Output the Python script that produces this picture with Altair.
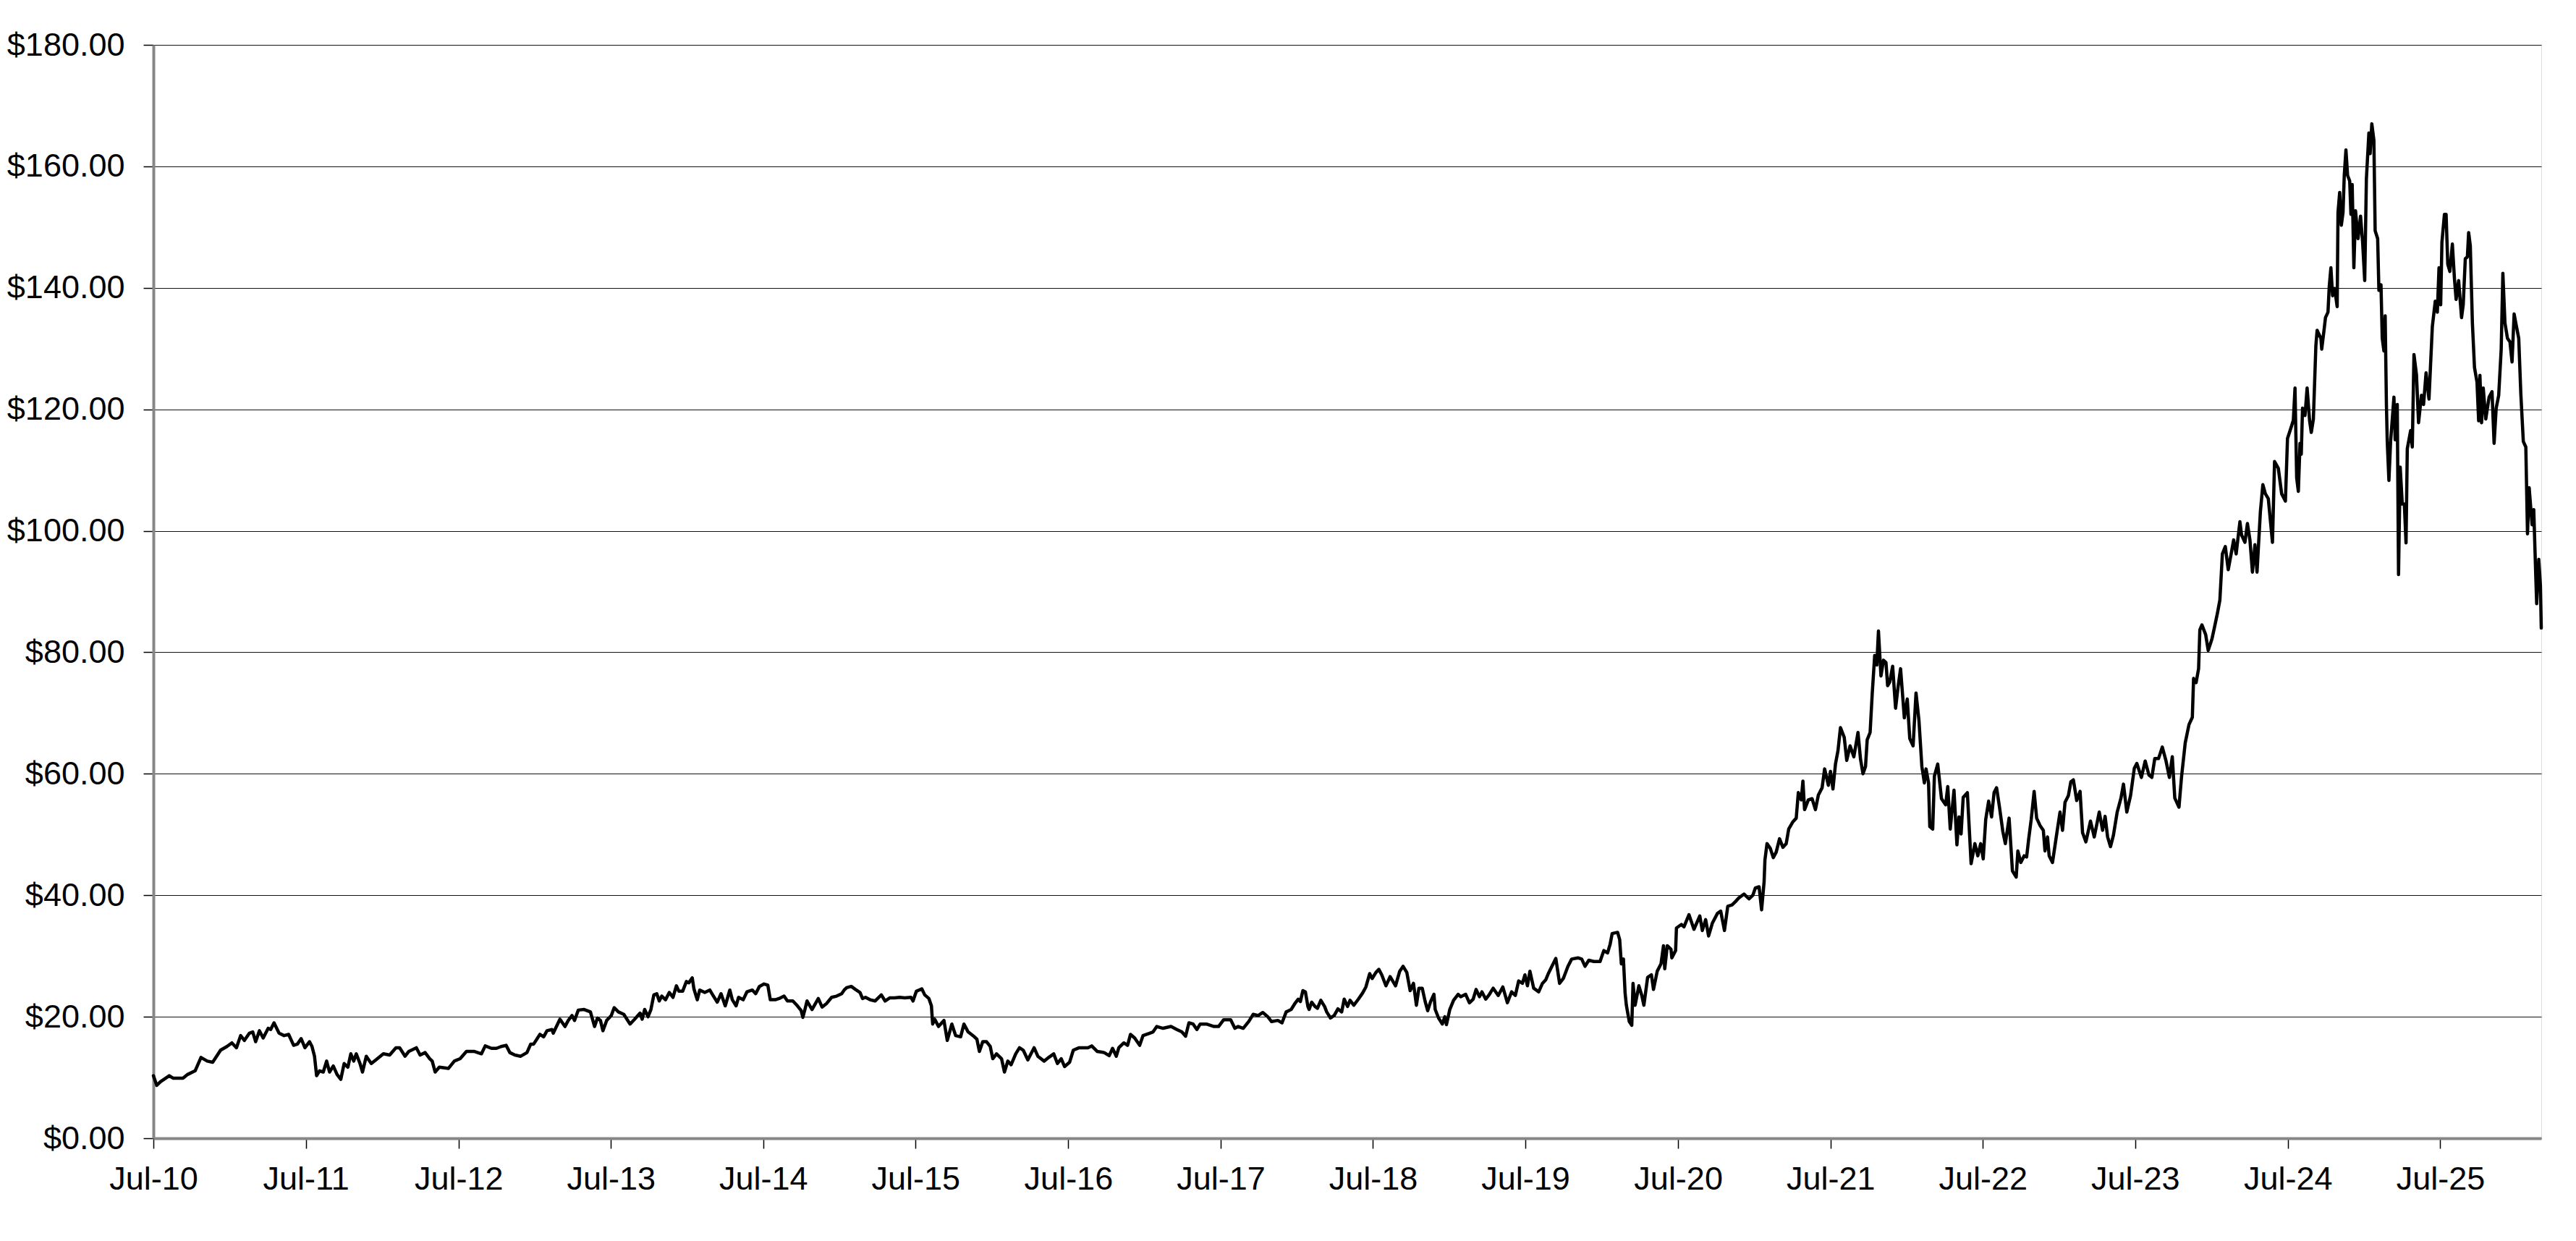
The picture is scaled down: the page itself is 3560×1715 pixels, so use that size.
import altair as alt
import pandas as pd

# ---- data ----
dates_a = ["2010-07-01","2010-07-09","2010-07-18","2010-08-08","2010-08-17","2010-09-10","2010-09-21","2010-10-09","2010-10-23","2010-11-07",
           "2010-11-20","2010-12-09","2010-12-24","2011-01-05","2011-01-16","2011-01-26","2011-02-04","2011-02-16","2011-02-24","2011-03-03",
           "2011-03-12","2011-03-21","2011-04-02","2011-04-08","2011-04-16","2011-04-28","2011-05-10","2011-05-21","2011-06-02","2011-06-11",
           "2011-06-20","2011-06-29","2011-07-10","2011-07-16","2011-07-22","2011-07-27","2011-08-03","2011-08-12","2011-08-20","2011-08-27",
           "2011-09-05","2011-09-14","2011-09-23","2011-10-01","2011-10-10","2011-10-17","2011-10-24","2011-10-30","2011-11-08","2011-11-14",
           "2011-11-23","2011-12-05","2011-12-16","2012-01-03","2012-01-18","2012-02-02","2012-02-11","2012-02-24","2012-03-04","2012-03-22",
           "2012-03-31","2012-04-12","2012-04-23","2012-04-29","2012-05-06","2012-05-16","2012-06-07","2012-06-21","2012-07-05","2012-07-20",
           "2012-08-07","2012-08-25","2012-09-03","2012-09-18","2012-09-30","2012-10-11","2012-10-23","2012-11-01","2012-11-13","2012-11-27",
           "2012-12-12","2012-12-21"]
prices_a = [10.3,8.7,9.3,10.3,9.9,9.9,10.5,11.1,13.3,12.7,
            12.5,14.5,15.1,15.7,14.9,16.9,16.1,17.3,17.5,15.9,
            17.7,16.5,18.1,17.9,19.0,17.3,16.9,17.1,15.3,15.5,
            16.4,14.9,15.9,15.1,13.5,10.3,11.1,10.9,12.7,10.9,
            11.9,10.5,9.7,12.3,11.7,13.9,12.7,13.9,12.3,10.9,
            13.5,12.3,12.9,13.9,13.7,14.9,14.9,13.5,14.3,14.9,
            13.7,14.1,13.1,12.7,10.9,11.7,11.5,12.7,13.1,14.3,
            14.3,13.9,15.2,14.8,14.8,15.1,15.3,14.1,13.7,13.5,
            14.1,15.5]

dates_b = ["2012-12-28","2013-01-12","2013-01-21","2013-01-29","2013-02-10","2013-02-13","2013-03-01","2013-03-13","2013-03-21","2013-03-30",
           "2013-04-05","2013-04-14","2013-04-28","2013-05-13","2013-05-23","2013-05-30","2013-06-06","2013-06-12","2013-06-21","2013-07-02",
           "2013-07-09","2013-07-19","2013-08-01","2013-08-16","2013-08-27","2013-09-09","2013-09-14","2013-09-20","2013-09-28","2013-10-05",
           "2013-10-12","2013-10-19","2013-10-25","2013-10-31","2013-11-09","2013-11-18","2013-11-27","2013-12-05","2013-12-11","2013-12-20",
           "2013-12-29","2014-01-04","2014-01-12","2014-01-16","2014-01-24","2014-01-30","2014-02-11","2014-02-23","2014-03-02","2014-03-13",
           "2014-03-22","2014-04-01","2014-04-07","2014-04-12","2014-04-18","2014-04-27","2014-05-03","2014-05-14","2014-05-23","2014-06-05",
           "2014-06-13","2014-06-22","2014-07-03","2014-07-12","2014-07-18","2014-07-30","2014-08-08","2014-08-20","2014-08-28","2014-09-10",
           "2014-09-21","2014-09-30","2014-10-04","2014-10-09","2014-10-14","2014-10-26","2014-11-10","2014-11-19","2014-11-30","2014-12-12",
           "2014-12-24","2015-01-05","2015-01-11","2015-01-17","2015-01-28","2015-02-07","2015-02-18","2015-02-24","2015-03-03","2015-03-14",
           "2015-03-26","2015-04-10","2015-04-19","2015-04-30","2015-05-12","2015-05-24","2015-06-05","2015-06-20"]
prices_b = [15.5,17.1,16.7,17.7,17.9,17.3,19.6,18.4,19.4,20.2,
            19.4,21.1,21.2,20.8,18.4,19.8,19.4,17.7,19.4,20.2,
            21.5,20.8,20.4,18.8,19.6,20.6,19.6,21.2,20.0,21.2,
            23.6,23.8,22.6,23.4,22.8,24.0,23.2,25.1,24.2,24.2,
            25.8,25.6,26.4,24.6,22.8,24.4,24.0,24.4,23.6,22.4,
            23.8,21.8,23.2,24.4,22.8,21.8,23.2,22.8,24.1,24.4,
            23.8,25.0,25.4,25.2,22.8,22.8,23.0,23.4,22.6,22.6,
            21.8,21.0,19.9,21.2,22.6,21.2,23.0,21.6,22.2,23.2,
            23.4,23.8,24.4,24.8,25.0,24.5,24.0,23.0,23.2,22.8,
            22.6,23.6,22.6,23.1,23.1,23.2,23.1,23.2]

dates_c = ["2015-06-25","2015-07-03","2015-07-16","2015-07-23","2015-08-02","2015-08-08","2015-08-11","2015-08-16","2015-08-25","2015-09-07",
           "2015-09-15","2015-09-26","2015-10-05","2015-10-17","2015-10-25","2015-11-04","2015-11-19","2015-11-25","2015-12-01","2015-12-09",
           "2015-12-18","2015-12-27","2016-01-02","2016-01-11","2016-01-23","2016-01-30","2016-02-07","2016-02-15","2016-02-26","2016-03-06",
           "2016-03-15","2016-03-26","2016-04-10","2016-04-19","2016-05-04","2016-05-15","2016-05-27","2016-06-05","2016-06-14","2016-06-22",
           "2016-07-04","2016-07-13","2016-07-27","2016-08-17","2016-08-26","2016-09-08","2016-09-25","2016-10-07","2016-10-15","2016-10-24",
           "2016-10-30","2016-11-11","2016-11-20","2016-11-27","2016-12-07","2016-12-19","2016-12-27","2017-01-12","2017-01-20","2017-01-29",
           "2017-02-13","2017-03-04","2017-03-18","2017-03-30","2017-04-08","2017-04-16","2017-04-26","2017-05-05","2017-05-13","2017-05-28",
           "2017-06-15","2017-06-26","2017-07-08","2017-07-25","2017-08-04","2017-08-12","2017-08-24","2017-09-06","2017-09-17","2017-09-29",
           "2017-10-10","2017-10-22","2017-10-31","2017-11-15","2017-11-25","2017-12-05","2017-12-17"]
prices_c = [22.6,24.2,24.6,23.6,23.0,21.8,18.8,19.6,18.4,19.4,
            16.1,18.8,16.9,16.7,18.8,17.5,16.7,16.3,14.3,15.9,
            15.9,15.1,13.1,13.9,13.1,10.9,12.7,12.1,13.9,14.9,
            14.5,12.9,14.9,13.5,12.7,13.3,13.9,12.3,13.1,11.8,
            12.5,14.5,14.9,14.9,15.2,14.3,14.1,13.6,14.8,13.5,
            14.9,15.7,15.3,17.1,16.5,15.3,16.9,17.3,17.5,18.4,
            18.1,18.4,17.9,17.5,16.8,19.0,18.8,17.9,18.8,18.8,
            18.4,18.4,19.5,19.5,18.1,18.4,18.1,19.2,20.4,20.2,
            20.7,20.0,19.2,19.4,19.0,20.8,21.2]

dates_d = ["2017-12-27","2018-01-03","2018-01-08","2018-01-14","2018-01-20","2018-01-26","2018-01-29","2018-02-04","2018-02-12","2018-02-18",
           "2018-02-26","2018-03-07","2018-03-12","2018-03-21","2018-03-30","2018-04-08","2018-04-17","2018-04-23","2018-05-01","2018-05-07",
           "2018-05-16","2018-05-27","2018-06-06","2018-06-14","2018-06-23","2018-06-29","2018-07-08","2018-07-15","2018-07-22","2018-08-01",
           "2018-08-11","2018-08-24","2018-09-03","2018-09-11","2018-09-20","2018-09-28","2018-10-06","2018-10-13","2018-10-19","2018-10-27",
           "2018-11-03","2018-11-09","2018-11-16","2018-11-24","2018-11-27","2018-12-05","2018-12-14","2018-12-20","2018-12-24","2019-01-01",
           "2019-01-10","2019-01-21","2019-01-27","2019-02-08","2019-02-17","2019-02-26","2019-03-05","2019-03-13","2019-03-19","2019-03-28",
           "2019-04-06","2019-04-15","2019-04-27","2019-05-08","2019-05-19","2019-05-29","2019-06-07","2019-06-15","2019-06-24","2019-06-30",
           "2019-07-06","2019-07-12","2019-07-21","2019-08-02","2019-08-11","2019-08-19","2019-08-25","2019-09-04","2019-09-12","2019-09-21",
           "2019-09-30","2019-10-11","2019-10-20","2019-11-04","2019-11-13","2019-11-21","2019-11-30","2019-12-12","2019-12-27","2020-01-05",
           "2020-01-14","2020-01-20","2020-01-25","2020-02-07","2020-02-12","2020-02-16","2020-02-21","2020-02-25","2020-02-28","2020-03-06",
           "2020-03-12","2020-03-15","2020-03-20","2020-03-29","2020-04-05","2020-04-10","2020-04-19","2020-04-28","2020-05-03","2020-05-12",
           "2020-05-21","2020-05-27","2020-05-30","2020-06-05","2020-06-14"]
prices_d = [22.3,22.9,22.5,24.3,24.1,21.7,21.2,22.4,21.7,21.4,
            22.7,21.7,20.8,19.8,20.2,21.3,20.8,22.9,21.7,22.7,
            21.9,22.9,23.9,24.9,27.1,26.3,27.3,27.8,26.9,25.1,
            26.6,25.1,27.5,28.3,27.3,24.3,25.5,21.9,24.7,24.7,
            22.5,21.0,22.5,23.7,21.2,19.8,18.8,20.0,18.7,21.2,
            22.7,23.7,23.3,23.7,22.3,22.9,24.5,23.3,24.1,22.9,
            23.7,24.7,23.5,24.9,22.3,24.1,23.5,25.9,25.5,26.9,
            25.1,27.5,24.7,24.1,25.5,26.1,27.1,28.5,29.6,25.5,
            26.3,28.3,29.5,29.7,29.5,28.3,29.3,29.1,29.1,30.9,
            30.5,31.9,33.7,33.9,32.7,28.7,29.5,23.9,21.9,19.2,
            18.6,25.5,21.9,25.1,23.5,21.9,26.5,26.9,24.5,27.5,
            28.7,31.7,27.9,31.7,31.1]

dates_e = ["2020-06-16","2020-06-25","2020-06-27","2020-07-09","2020-07-15","2020-07-27","2020-08-08","2020-08-22","2020-08-28","2020-09-05",
           "2020-09-12","2020-09-21","2020-10-03","2020-10-11","2020-10-20","2020-10-28","2020-11-07","2020-11-16","2020-11-24","2020-12-06",
           "2020-12-18","2020-12-27","2021-01-02","2021-01-11","2021-01-17","2021-01-23","2021-01-25","2021-01-30","2021-02-07","2021-02-14",
           "2021-02-21","2021-03-01","2021-03-09","2021-03-17","2021-03-23","2021-04-02","2021-04-10","2021-04-15","2021-04-22","2021-04-26",
           "2021-04-30","2021-05-09","2021-05-18","2021-05-26","2021-06-02","2021-06-11","2021-06-17","2021-06-26","2021-07-01","2021-07-07",
           "2021-07-13","2021-07-19","2021-07-25","2021-08-03","2021-08-09","2021-08-17","2021-08-26","2021-09-05","2021-09-11","2021-09-17",
           "2021-09-23","2021-09-27","2021-10-04","2021-10-09","2021-10-15","2021-10-20","2021-10-24","2021-10-30","2021-11-05","2021-11-11",
           "2021-11-15","2021-11-20","2021-11-27","2021-12-04","2021-12-10","2021-12-16","2021-12-25","2022-01-01","2022-01-07","2022-01-15",
           "2022-01-22","2022-01-29","2022-02-05","2022-02-11","2022-02-15","2022-02-21","2022-02-24","2022-03-03","2022-03-07","2022-03-15",
           "2022-03-24","2022-04-03","2022-04-08","2022-04-14","2022-04-23","2022-04-30","2022-05-05","2022-05-10","2022-05-15","2022-05-25",
           "2022-06-03","2022-06-12","2022-06-19","2022-06-26","2022-07-02","2022-07-08","2022-07-15","2022-07-22","2022-07-28","2022-08-03",
           "2022-08-10","2022-08-18","2022-08-24","2022-09-02","2022-09-10","2022-09-19","2022-09-23","2022-09-30","2022-10-08","2022-10-14",
           "2022-10-19","2022-10-25","2022-11-01","2022-11-07","2022-11-15"]
prices_e = [29.7,30.9,34.6,35.2,34.8,36.8,34.4,36.6,34.2,36.0,
            33.3,35.4,37.0,37.4,34.2,38.2,38.4,39.0,39.6,40.2,
            39.4,40.0,41.2,41.4,37.6,42.2,45.8,48.5,47.7,46.2,
            47.1,49.3,47.9,48.5,50.9,52.1,52.7,56.9,55.7,58.8,
            54.1,55.7,55.9,54.1,56.5,57.7,60.8,58.1,60.4,57.5,
            61.6,63.8,67.6,66.0,62.2,64.6,62.8,66.8,62.4,60.0,
            61.2,65.6,66.8,73.1,79.5,77.9,83.5,76.1,78.7,78.3,
            74.5,75.1,77.7,70.8,74.3,77.3,69.2,72.3,65.8,64.6,
            73.3,68.8,61.2,58.5,60.8,58.5,51.3,50.9,59.6,61.6,
            55.9,54.9,57.9,50.9,57.3,48.3,52.9,50.1,56.1,56.9,
            45.2,48.5,46.5,48.5,46.0,52.5,55.5,52.9,56.9,57.7,
            54.5,50.5,48.5,52.7,44.0,43.0,47.3,45.4,46.5,46.3,
            49.3,52.5,57.1,52.7,51.5]

dates_f = ["2022-11-23","2022-11-27","2022-12-03","2022-12-07","2022-12-15","2022-12-24","2023-01-02","2023-01-08","2023-01-14","2023-01-22",
           "2023-01-28","2023-02-03","2023-02-11","2023-02-19","2023-02-25","2023-03-05","2023-03-16","2023-03-25","2023-04-06","2023-04-14",
           "2023-04-20","2023-04-26","2023-05-03","2023-05-10","2023-05-19","2023-05-28","2023-06-03","2023-06-11","2023-06-20","2023-06-29",
           "2023-07-05","2023-07-16","2023-07-25","2023-08-03","2023-08-10","2023-08-17","2023-08-26","2023-09-04","2023-09-13","2023-09-21",
           "2023-09-28","2023-10-04","2023-10-14","2023-10-20","2023-10-29","2023-11-07","2023-11-15","2023-11-18","2023-11-24","2023-11-30",
           "2023-12-03","2023-12-08","2023-12-17","2023-12-23","2024-01-01","2024-01-07","2024-01-14","2024-01-20","2024-01-26","2024-02-02",
           "2024-02-09","2024-02-16","2024-02-22","2024-02-28","2024-03-08","2024-03-12","2024-03-20","2024-03-26","2024-04-01","2024-04-07",
           "2024-04-13","2024-04-18","2024-04-26","2024-05-02","2024-05-08","2024-05-15","2024-05-25","2024-05-30","2024-06-08","2024-06-16",
           "2024-06-25","2024-06-30","2024-07-09","2024-07-14","2024-07-18","2024-07-22","2024-07-26","2024-07-30"]
prices_f = [50.7,47.3,49.6,46.5,45.4,49.6,53.7,50.7,55.3,56.4,
            58.7,59.0,55.6,57.1,50.3,48.8,52.2,49.6,53.7,50.7,
            53.0,49.6,48.0,49.9,53.7,56.0,58.3,53.7,56.4,60.9,
            61.7,59.4,62.1,59.8,59.4,62.5,62.5,64.4,62.1,59.4,
            62.8,56.0,54.5,59.4,65.1,68.1,69.3,75.7,75.0,77.3,
            83.7,84.5,82.9,80.3,82.2,84.1,86.4,88.6,96.2,97.4,
            93.6,96.2,98.5,96.2,101.5,99.3,98.1,101.2,98.5,93.2,
            97.7,93.2,103.1,107.6,106.1,105.3,98.1,111.4,110.3,106.1,
            104.9,115.2,117.1,118.2,123.5,108.7,106.5,114.4]

dates_g = ["2024-08-02","2024-08-05","2024-08-11","2024-08-16","2024-08-22","2024-08-26","2024-08-31","2024-09-06","2024-09-09","2024-09-18",
           "2024-09-20","2024-09-26","2024-09-29","2024-10-05","2024-10-08","2024-10-12","2024-10-16","2024-10-21","2024-10-27","2024-10-29",
           "2024-11-02","2024-11-06","2024-11-10","2024-11-13","2024-11-17","2024-11-21","2024-11-26","2024-11-29","2024-12-02","2024-12-06",
           "2024-12-10","2024-12-16","2024-12-22","2024-12-27","2025-01-01","2025-01-05","2025-01-11","2025-01-14","2025-01-18","2025-01-23",
           "2025-01-26","2025-02-01","2025-02-04","2025-02-09","2025-02-12","2025-02-16","2025-02-19","2025-02-22","2025-02-24","2025-02-28",
           "2025-03-04","2025-03-12","2025-03-15","2025-03-20","2025-03-23","2025-03-27","2025-04-01","2025-04-06","2025-04-10","2025-04-13",
           "2025-04-21","2025-04-25","2025-04-29","2025-05-05","2025-05-10","2025-05-17","2025-05-22","2025-05-28","2025-06-04","2025-06-12",
           "2025-06-19","2025-06-24","2025-06-28","2025-07-02","2025-07-05","2025-07-11","2025-07-15","2025-07-19","2025-07-24","2025-07-30",
           "2025-08-04","2025-08-08","2025-08-14","2025-08-21","2025-08-25","2025-08-30","2025-09-04","2025-09-07","2025-09-11","2025-09-16",
           "2025-09-21","2025-09-27","2025-10-01","2025-10-04","2025-10-08","2025-10-12","2025-10-18","2025-10-26","2025-11-02","2025-11-07",
           "2025-11-12","2025-11-18","2025-11-24","2025-11-28","2025-12-03","2025-12-09","2025-12-15","2025-12-20","2025-12-25","2025-12-29",
           "2026-01-05","2026-01-10","2026-01-16","2026-01-22","2026-01-26","2026-01-30","2026-02-06","2026-02-10","2026-02-15","2026-02-17",
           "2026-02-22","2026-02-26","2026-02-28"]
prices_g = [112.6,120.2,119.0,123.5,118.1,116.2,118.4,130.5,133.0,131.7,
            129.9,133.3,135.1,136.0,140.2,143.3,138.7,139.9,136.9,152.4,
            155.7,150.3,152.4,158.5,162.7,158.5,157.6,152.1,157.0,143.3,
            152.7,148.1,151.8,147.5,141.2,157.9,165.5,162.1,167.0,164.3,
            149.4,148.1,139.6,140.5,131.7,129.6,135.4,120.8,114.7,108.3,
            114.7,122.0,115.0,120.8,92.8,110.5,104.4,104.4,98.0,113.5,
            116.5,113.8,129.0,125.7,117.8,122.3,120.8,126.0,121.7,133.6,
            137.8,136.0,143.3,137.2,147.5,152.1,152.1,143.9,142.7,147.2,
            141.5,138.1,141.2,135.1,137.2,144.8,145.1,149.1,146.9,134.2,
            126.9,124.5,118.1,125.6,117.8,123.5,118.4,122.0,122.9,114.4,
            120.2,122.3,129.9,142.4,134.2,131.7,131.1,127.8,135.7,134.2,
            131.7,122.6,114.7,113.8,99.5,107.1,101.0,103.5,92.2,88.0,
            95.3,91.0,84.0]

tick_years = list(range(2010, 2026))          # "Jul-10" ... "Jul-25"
y_ticks = [0, 20, 40, 60, 80, 100, 120, 140, 160, 180]

dates = dates_a + dates_b + dates_c + dates_d + dates_e + dates_f + dates_g
prices = prices_a + prices_b + prices_c + prices_d + prices_e + prices_f + prices_g
df = pd.DataFrame({"date": dates, "price": prices})

FONT = "Liberation Sans"
GRAY = "#878787"

x_values = [alt.DateTime(year=y, month=7, date=1, utc=True) for y in tick_years]
x_domain = [alt.DateTime(year=2010, month=7, date=1, utc=True),
            alt.DateTime(year=2026, month=2, date=28, utc=True)]

chart = alt.Chart(df).mark_line(
    color="black", strokeWidth=4.5, strokeJoin="round", strokeCap="round"
).encode(
    x=alt.X("date:T",
            scale=alt.Scale(type="utc", domain=x_domain),
            axis=alt.Axis(values=x_values, labelExpr="utcFormat(datum.value, '%b-%y')", title=None,
                          grid=False, tickSize=14, tickColor="black", tickWidth=1.5,
                          labelFont=FONT, labelFontSize=45, labelColor="black",
                          labelPadding=20, labelFlush=False, labelOverlap=False,
                          domainColor=GRAY, domainWidth=4)),
    y=alt.Y("price:Q",
            scale=alt.Scale(domain=[0, 180], nice=False),
            axis=alt.Axis(values=y_ticks, format="$.2f", title=None,
                          grid=True, gridColor="#111111", gridWidth=1,
                          tickSize=14, tickColor="black", tickWidth=1.5,
                          labelFont=FONT, labelFontSize=45, labelColor="black",
                          labelPadding=26, labelFlush=False, labelOverlap=False,
                          domainColor=GRAY, domainWidth=4)),
).properties(
    width=3300, height=1511,
    autosize=alt.AutoSizeParams(type="none"),
    padding={"left": 204, "top": 54, "right": 30, "bottom": 120},
).configure_view(
    stroke=GRAY, strokeWidth=4
).configure(background="white")

chart.save("out.html", embed_options={"renderer": "svg", "actions": False})
